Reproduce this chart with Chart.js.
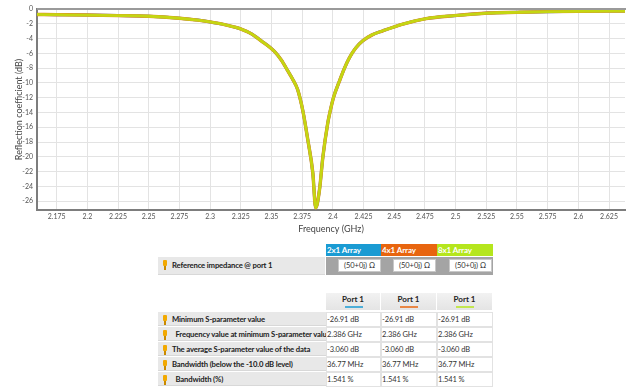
<!DOCTYPE html>
<html>
<head>
<meta charset="utf-8">
<script src="https://cdn.jsdelivr.net/npm/chart.js@4/dist/chart.umd.min.js"></script>
<style>
  html, body { margin: 0; padding: 0; background: #fff; }
  body { width: 626px; height: 387px; overflow: hidden; position: relative;
         font-family: "Lato", "Open Sans", "Noto Sans", sans-serif; color: #222; }
  #chartBox { position: absolute; left: 0; top: 0; width: 626px; height: 236px; }
  .abs { position: absolute; box-sizing: border-box; white-space: pre; overflow: hidden; }
  .hdr { color: #fff; font-weight: bold; font-size: 8px; line-height: 12px; padding-left: 1px; letter-spacing: -0.1px; }
  .lbl { background: #e8e8e8; font-weight: bold; font-size: 7.7px; letter-spacing: -0.15px; color: #222; border-bottom: 1px solid #d8d8d8; }
  .pin { position: absolute; width: 4px; height: 6px; background: #f2a900; border-radius: 1px; }
  .pin::after { content: ""; position: absolute; left: 1px; top: 6px; width: 1.5px; height: 4px; background: #c98a00; }
  .imp { background: #a4a4a4; }
  .box { background: #fff; border: 1px solid #c8c8c8; font-size: 7.5px; text-align: center; line-height: 11px; color: #333; }
  .port { background: linear-gradient(#f2f2f2, #e4e4e4); border-right: 1px solid #fff; font-weight: bold; font-size: 8px; text-align: center; line-height: 13px; color: #222; }
  .bar { position: absolute; height: 2px; }
  .val { background: #fff; border: 1px solid #e2e2e2; font-size: 7.5px; letter-spacing: -0.1px; color: #333; line-height: 13px; }
</style>
</head>
<body>
<div id="chartBox"><canvas id="c" width="626" height="236"></canvas></div>
<div id="table"></div>
<script>
// Frequency sweep (GHz) and reflection coefficient (dB)
const freqGHz = [2.159, 2.175, 2.200, 2.225, 2.250, 2.275, 2.290, 2.300, 2.310, 2.320,
                 2.3253, 2.333, 2.3416, 2.3522, 2.358, 2.3634, 2.3676, 2.3713, 2.3756, 2.3796,
                 2.3837, 2.386, 2.3891, 2.3919, 2.3959, 2.3972, 2.4005, 2.4054, 2.4095, 2.4135,
                 2.4185, 2.4244, 2.432, 2.4407, 2.457, 2.476, 2.4988, 2.5265, 2.55, 2.5753,
                 2.60, 2.638];
const s11dB = [-0.74, -0.77, -0.82, -0.89, -0.98, -1.25, -1.50, -1.75, -2.05, -2.45,
               -2.72, -3.3, -4.3, -5.7, -6.9, -8.4, -9.6, -10.9, -13.8, -17.7,
               -22.2, -26.91, -24.5, -20.0, -15.4, -14.3, -12.0, -9.75, -8.0, -6.6,
               -5.3, -4.3, -3.5, -2.95, -2.04, -1.3, -0.9, -0.55, -0.45, -0.36,
               -0.31, -0.27];

// The three arrays share the same port-1 response
const arrayNames = ['2x1 Array', '4x1 Array', '8x1 Array'];
const arrayColors = ['#1a9bd3', '#e8650f', '#b5e61d'];
const lineColors = ['#1e9ad6', '#e8802a', '#c4d612'];
const lineWidths = [3.0, 3.4, 2.8];
const arrayS11 = [s11dB, s11dB, s11dB];

const xTicks = [2.175, 2.2, 2.225, 2.25, 2.275, 2.3, 2.325, 2.35, 2.375, 2.4, 2.425,
                2.45, 2.475, 2.5, 2.525, 2.55, 2.575, 2.6, 2.625];
const yTicks = [0, -2, -4, -6, -8, -10, -12, -14, -16, -18, -20, -22, -24, -26];

// Table contents
const impedance = '(50+0j) Ω';
const portLabel = 'Port 1';
const rowLabels = ['Minimum S-parameter value',
                   '  Frequency value at minimum S-parameter value',
                   'The average S-parameter value of the data',
                   'Bandwidth (below the -10.0 dB level)',
                   '  Bandwidth (%)'];
const minS = ['-26.91 dB', '-26.91 dB', '-26.91 dB'];
const minFreq = ['2.386 GHz', '2.386 GHz', '2.386 GHz'];
const avgS = ['-3.060 dB', '-3.060 dB', '-3.060 dB'];
const bw = ['36.77 MHz', '36.77 MHz', '36.77 MHz'];
const bwPct = ['1.541 %', '1.541 %', '1.541 %'];
const rowValues = [minS, minFreq, avgS, bw, bwPct];

const topLine = {
  id: 'topLine',
  afterDraw(chart) {
    const { ctx, chartArea } = chart;
    ctx.save();
    ctx.strokeStyle = '#9a9a9a';
    ctx.lineWidth = 2;
    ctx.beginPath();
    ctx.moveTo(chartArea.left, chartArea.top);
    ctx.lineTo(chartArea.right + 1, chartArea.top);
    ctx.stroke();
    ctx.restore();
  }
};

const tickFont = { family: 'Lato, "Open Sans", sans-serif', size: 7 };

new Chart(document.getElementById('c'), {
  type: 'line',
  data: {
    datasets: arrayNames.map((name, i) => ({
      label: name,
      data: freqGHz.map((f, k) => ({ x: f, y: arrayS11[i][k] })),
      borderColor: lineColors[i],
      borderWidth: lineWidths[i],
      order: arrayNames.length - i,   // 8x1 drawn last, on top
      pointRadius: 0,
      cubicInterpolationMode: 'monotone',
      fill: false
    }))
  },
  options: {
    responsive: false,
    animation: false,
    devicePixelRatio: 1,
    layout: { padding: { top: 9, right: 1, left: 0, bottom: 0 } },
    plugins: { legend: { display: false }, tooltip: { enabled: false } },
    scales: {
      x: {
        type: 'linear',
        min: 2.159, max: 2.638,
        afterBuildTicks(axis) { axis.ticks = xTicks.map(v => ({ value: v })); },
        afterFit(axis) { axis.height = 26; },
        ticks: { font: tickFont, color: '#555', padding: 3, maxRotation: 0, autoSkip: false,
                 callback: v => String(v) },
        grid: { color: '#e3e3e3', lineWidth: 1, drawTicks: false },
        border: { color: '#7d7d7d', width: 2 },
        title: { display: true, text: 'Frequency (GHz)', color: '#444',
                 font: { family: 'Lato, "Open Sans", sans-serif', size: 9 }, padding: { top: 0, bottom: 2 } }
      },
      y: {
        type: 'linear',
        min: -27.2, max: 0,
        afterBuildTicks(axis) { axis.ticks = yTicks.map(v => ({ value: v })); },
        afterFit(axis) { axis.width = 37; },
        ticks: { font: tickFont, color: '#555', padding: 4, autoSkip: false,
                 callback: v => String(v) },
        grid: { color: '#e3e3e3', lineWidth: 1, drawTicks: false },
        border: { color: '#7d7d7d', width: 2 },
        title: { display: true, text: 'Reflection coefficient (dB)', color: '#444',
                 font: { family: 'Lato, "Open Sans", sans-serif', size: 9 }, padding: { top: 14, bottom: 0 } }
      }
    }
  },
  plugins: [topLine]
});

// Results table beneath the plot
const tbl = document.getElementById('table');
function el(cls, l, t, w, h, text, style) {
  const d = document.createElement('div');
  d.className = 'abs ' + cls;
  d.style.left = l + 'px'; d.style.top = t + 'px';
  d.style.width = w + 'px'; d.style.height = h + 'px';
  if (text !== undefined) d.textContent = text;
  if (style) Object.assign(d.style, style);
  tbl.appendChild(d);
  return d;
}
function pin(l, t) {
  const p = document.createElement('div');
  p.className = 'pin';
  p.style.left = l + 'px'; p.style.top = t + 'px';
  tbl.appendChild(p);
}
const colX = [326, 381, 437];
const colW = [55, 56, 56];

// array name header
arrayNames.forEach((n, i) => el('hdr', colX[i], 244, colW[i], 12, n, { background: arrayColors[i] }));

// reference impedance row
el('lbl', 158, 257, 167, 18, 'Reference impedance @ port 1', { lineHeight: '17px', paddingLeft: '14px' });
pin(163, 260);
el('imp', 326, 257, 167, 18);
arrayNames.forEach((n, i) => el('box', colX[i] + 12, 259, 43, 13, impedance));

// port header
arrayNames.forEach((n, i) => {
  el('port', colX[i], 293, colW[i], 17, portLabel);
  const b = document.createElement('div');
  b.className = 'bar';
  b.style.left = (colX[i] + colW[i] / 2 - 9) + 'px';
  b.style.top = '306px'; b.style.width = '18px';
  b.style.background = arrayColors[i]; b.style.opacity = '0.75';
  tbl.appendChild(b);
});

// result rows
rowLabels.forEach((lab, r) => {
  const t = 312 + r * 15;
  el('lbl', 158, t, 168, 14, lab, { lineHeight: '14px', paddingLeft: '14px' });
  pin(163, t + 3);
  rowValues[r].forEach((v, i) => el('val', colX[i], t, colW[i], 15, v));
});
</script>
</body>
</html>
